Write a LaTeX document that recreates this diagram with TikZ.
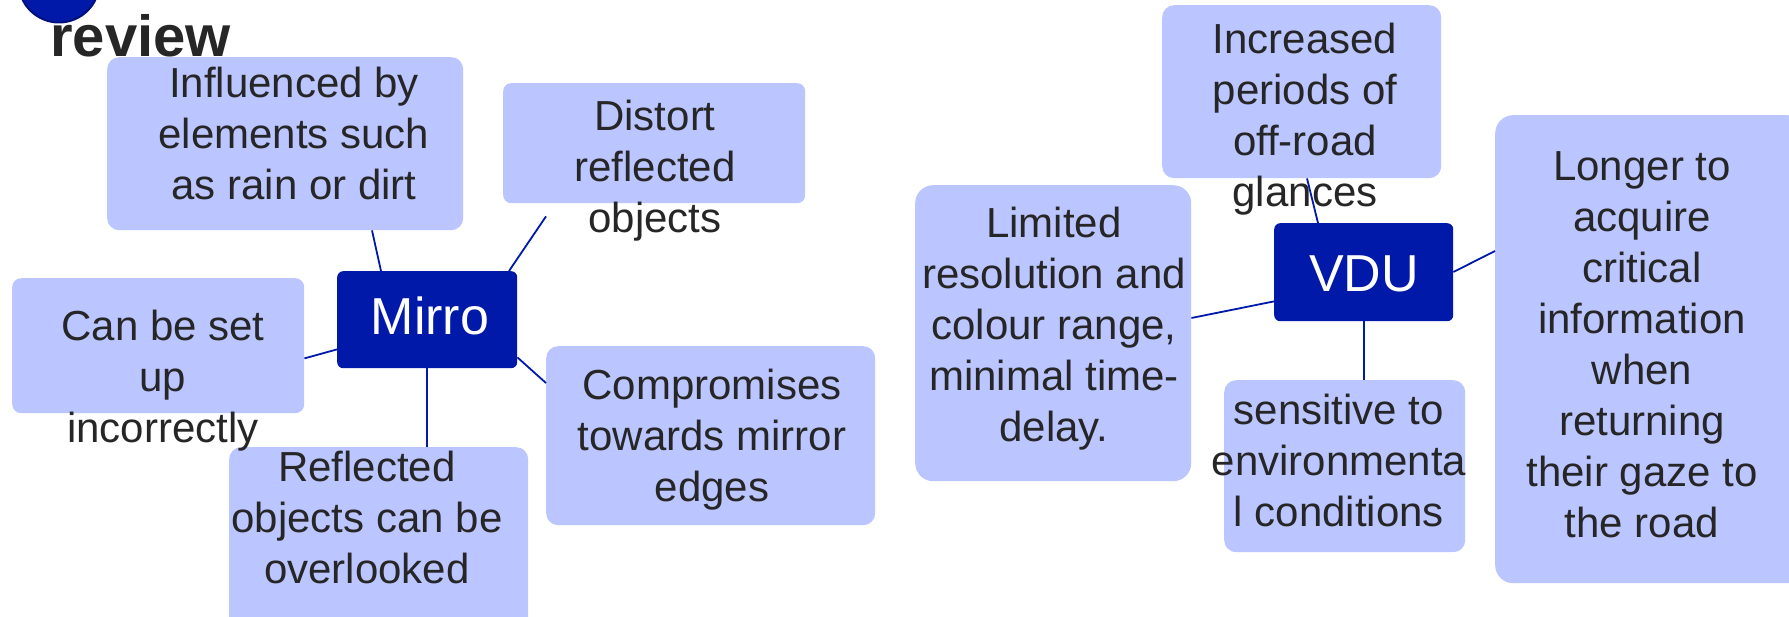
\documentclass[tikz,border=0pt]{standalone}
\usepackage{fontspec}
\setmainfont{Liberation Sans}
\definecolor{boxfill}{HTML}{BBC5FF}
\definecolor{hub}{HTML}{0019A8}
\definecolor{txt}{HTML}{262626}
\definecolor{ring}{HTML}{00107A}
\newcommand\mlines[1]{\begin{tabular}[t]{@{}c@{}}#1\end{tabular}}
\begin{document}
\begin{tikzpicture}[x=1pt,y=-1pt,
  leaf/.style={fill=boxfill, draw=none, inner sep=0pt, anchor=north west, rounded corners=#1},
  leaf/.default=12pt,
  hubbox/.style={fill=hub, draw=none, inner sep=0pt, anchor=north west, rounded corners=6pt},
  leaftext/.style={font=\fontsize{42}{51}\selectfont, text=txt, inner sep=0pt, anchor=base},
  hubtext/.style={font=\fontsize{52}{60}\selectfont, text=white, inner sep=0pt, anchor=base},
  link/.style={draw=hub, line width=1.8pt}]
\clip (0,0) rectangle (1789,617);
\fill[white] (0,0) rectangle (1789,617);

% title fragment
\node[circle, fill=hub, draw=ring, line width=2pt, minimum size=81pt, inner sep=0pt] (logo) at (59,-18) {};
\node[font=\bfseries\fontsize{58}{62}\selectfont, text=txt, anchor=base west, inner sep=0pt] (title) at (50,57) {review};

% boxes
\node[leaf=12pt, minimum width=356pt, minimum height=173pt] (inf) at (107,57) {};
\node[leaf=8pt,  minimum width=302pt, minimum height=120pt] (dis) at (503,83) {};
\node[leaf=9pt,  minimum width=292pt, minimum height=135pt] (can) at (12,278) {};
\node[leaf=12pt, minimum width=329pt, minimum height=179pt] (com) at (546,346) {};
\node[leaf=12pt, minimum width=299pt, minimum height=190pt] (ref) at (229,447) {};
\node[hubbox, minimum width=180pt, minimum height=97pt] (mir) at (337,271) {};

\node[leaf=12pt, minimum width=279pt, minimum height=173pt] (inc) at (1162,5) {};
\node[leaf=18pt, minimum width=276pt, minimum height=296pt] (lim) at (915,185) {};
\node[leaf=12pt, minimum width=241pt, minimum height=172pt] (sen) at (1224,380) {};
\node[leaf=18pt, minimum width=310pt, minimum height=468pt] (lon) at (1495,115) {};
\node[hubbox, minimum width=179pt, minimum height=98pt] (vdu) at (1274,223) {};

% connectors
\draw[link] ([xshift=44pt]mir.north west) -- ([xshift=265pt]inf.south west);
\draw[link] ([xshift=172pt]mir.north west) -- ([xshift=43pt,yshift=-13pt]dis.south west);
\draw[link] ([yshift=19pt]mir.south west) -- ([yshift=55pt]can.south east);
\draw[link] ([yshift=11pt]mir.south east) -- ([yshift=-37pt]com.north west);
\draw[link] (mir.south) -- (mir.south |- ref.north);

\draw[link] ([xshift=44pt]vdu.north west) -- ([xshift=145pt]inc.south west);
\draw[link] ([yshift=20pt]vdu.south west) -- ([yshift=-133pt]lim.north east);
\draw[link] ([yshift=-49pt]vdu.north east) -- ([yshift=-136pt]lon.north west);
\draw[link] (vdu.south) -- (vdu.south |- sen.north);

% texts
\node[hubtext] (mirt) at (430,335) {Mirro};
\node[hubtext] (vdut) at (1364,292) {VDU};

\node[leaftext] (inft) at (294,98) {\mlines{Influenced by\\elements such\\as rain or dirt}};
\node[leaftext] (dist) at (655,131) {\mlines{Distort\\reflected\\objects}};
\node[leaftext] (cant) at (163,341) {\mlines{Can be set\\up\\incorrectly}};
\node[leaftext] (comt) at (712,400) {\mlines{Compromises\\towards mirror\\edges}};
\node[leaftext] (reft) at (367,482) {\mlines{Reflected\\objects can be\\overlooked}};

\node[leaftext] (inct) at (1305,54) {\mlines{Increased\\periods of\\off-road\\glances}};
\node[leaftext] (limt) at (1054,238) {\mlines{Limited\\resolution and\\colour range,\\minimal time-\\delay.}};
\node[leaftext] (sent) at (1339,425) {\mlines{sensitive to\\environmenta\\l conditions}};
\node[leaftext] (lont) at (1642,181) {\mlines{Longer to\\acquire\\critical\\information\\when\\returning\\their gaze to\\the road}};
\end{tikzpicture}
\end{document}
